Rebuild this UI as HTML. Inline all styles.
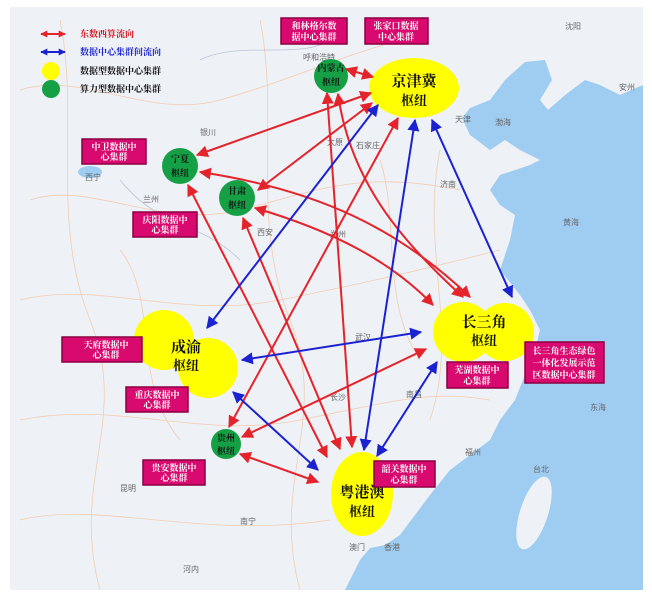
<!DOCTYPE html>
<html><head><meta charset="utf-8"><style>
body{margin:0;background:#fff;width:652px;height:600px;overflow:hidden}
svg{display:block}
.lb{font-family:"Liberation Serif","Noto Serif CJK SC",serif;font-size:9px;fill:#fff;font-weight:bold}
.nd{font-family:"Liberation Serif","Noto Serif CJK SC",serif;font-weight:bold;fill:#111}
.ct{font-family:"Liberation Sans","Noto Sans CJK SC",sans-serif;font-size:8px;fill:#666}
</style></head><body>
<svg width="652" height="600" viewBox="0 0 652 600" xmlns="http://www.w3.org/2000/svg">
<defs>
<marker id="r" viewBox="0 0 10 10" refX="9" refY="5" markerWidth="6" markerHeight="6" orient="auto-start-reverse"><path d="M0,0L10,5L0,10z" fill="#e4232a"/></marker>
<marker id="b" viewBox="0 0 10 10" refX="9" refY="5" markerWidth="6" markerHeight="6" orient="auto-start-reverse"><path d="M0,0L10,5L0,10z" fill="#1b22d0"/></marker>
<marker id="rs" viewBox="0 0 10 10" refX="9" refY="5" markerWidth="3.5" markerHeight="3.5" orient="auto-start-reverse"><path d="M0,0L10,5L0,10z" fill="#e4232a"/></marker>
<marker id="bs" viewBox="0 0 10 10" refX="9" refY="5" markerWidth="3.5" markerHeight="3.5" orient="auto-start-reverse"><path d="M0,0L10,5L0,10z" fill="#1b22d0"/></marker>
</defs>
<rect x="10" y="7" width="633" height="583" fill="#eef1f6"/>
<g fill="none" stroke="#f3c9a8" stroke-width="0.8" opacity="0.9">
<path d="M20,90 C80,70 150,120 220,100 S330,60 400,40"/><path d="M30,200 C90,180 160,230 240,210 S360,170 460,190"/>
<path d="M20,300 C100,280 180,320 280,300 S420,270 500,250"/><path d="M20,420 C120,400 200,440 300,420 S430,390 490,400"/>
<path d="M60,20 C80,120 50,220 90,320 S70,480 100,590"/><path d="M260,20 C280,120 250,220 290,320 S270,480 300,590"/>
<path d="M440,150 C420,250 460,330 430,420"/><path d="M20,520 C100,500 200,540 330,520"/>
<path d="M120,250 C160,300 130,380 180,440"/><path d="M380,160 C400,220 380,300 420,360"/>
</g>
<g fill="none" stroke="#b9c4dc" stroke-width="0.8"><path d="M200,60 C240,40 300,60 330,40"/><path d="M120,180 C160,230 200,220 240,260"/></g>
<path fill="#9fcdf2" d="M643,85 L620,95 L600,85 L585,80 L565,95 L548,110 L540,100 L552,80 L545,60 L525,62 L505,80 L490,100 L470,108 L462,118 L470,135 L490,150 L505,140 L520,150 L540,160 L530,165 L500,175 L490,190 L500,205 L515,215 L510,240 L500,270 L520,295 L530,310 L540,330 L535,350 L525,375 L515,400 L500,420 L490,440 L470,455 L450,470 L430,495 L415,515 L400,535 L385,545 L370,548 L360,560 L345,590 L643,590Z"/>
<ellipse cx="534" cy="513" rx="14" ry="38" transform="rotate(18 534 513)" fill="#eef1f6"/>
<ellipse cx="90" cy="172" rx="12" ry="6" fill="#9fcdf2"/>
<text class="ct" x="455" y="122">天津</text><text class="ct" x="356" y="148">石家庄</text><text class="ct" x="327" y="145">太原</text>
<text class="ct" x="440" y="187">济南</text><text class="ct" x="200" y="135">银川</text><text class="ct" x="85" y="180">西宁</text>
<text class="ct" x="143" y="202">兰州</text><text class="ct" x="257" y="235">西安</text><text class="ct" x="330" y="237">郑州</text>
<text class="ct" x="355" y="340">武汉</text><text class="ct" x="330" y="400">长沙</text><text class="ct" x="406" y="397">南昌</text>
<text class="ct" x="465" y="455">福州</text><text class="ct" x="533" y="472">台北</text><text class="ct" x="120" y="491">昆明</text>
<text class="ct" x="240" y="524">南宁</text><text class="ct" x="565" y="29">沈阳</text><text class="ct" x="619" y="90">安州</text>
<text class="ct" x="303" y="60">呼和浩特</text><text class="ct" x="384" y="550">香港</text><text class="ct" x="349" y="550">澳门</text>
<text class="ct" x="563" y="225">黄海</text><text class="ct" x="590" y="410">东海</text><text class="ct" x="495" y="125">渤海</text><text class="ct" x="183" y="572">河内</text>
<ellipse cx="414" cy="88" rx="45" ry="30" fill="#ffff00"/>
<circle cx="164" cy="340" r="30" fill="#ffff00"/><circle cx="208" cy="368" r="30" fill="#ffff00"/>
<circle cx="463" cy="332" r="30" fill="#ffff00"/><circle cx="505" cy="332" r="29" fill="#ffff00"/>
<ellipse cx="362" cy="494" rx="31" ry="42" fill="#ffff00"/>
<circle cx="331" cy="76" r="17" fill="#16a046"/><circle cx="180" cy="166" r="18" fill="#16a046"/>
<circle cx="237" cy="198" r="18" fill="#16a046"/><circle cx="226" cy="444" r="15" fill="#16a046"/>
<g fill="none" stroke="#e4232a" stroke-width="2" marker-start="url(#r)" marker-end="url(#r)">
<line x1="346" y1="69" x2="373" y2="77"/>
<line x1="371" y1="93" x2="197" y2="155"/>
<line x1="372" y1="103" x2="258" y2="190"/>
<line x1="398" y1="118" x2="229" y2="427"/>
<path d="M200,172 C320,190 400,230 470,297"/>
<path d="M255,208 C330,230 390,260 433,305"/>
<path d="M338,94 C350,180 400,240 463,297"/>
<line x1="327" y1="93" x2="352" y2="447"/>
<line x1="188" y1="185" x2="327" y2="457"/>
<line x1="243" y1="218" x2="340" y2="449"/>
<line x1="426" y1="349" x2="242" y2="437"/>
<line x1="240" y1="454" x2="318" y2="482"/>
</g>
<g fill="none" stroke="#1b22d0" stroke-width="2" marker-start="url(#b)" marker-end="url(#b)">
<line x1="378" y1="105" x2="207" y2="328"/>
<line x1="415" y1="120" x2="364" y2="450"/>
<line x1="432" y1="120" x2="512" y2="297"/>
<line x1="242" y1="360" x2="421" y2="332"/>
<line x1="233" y1="392" x2="318" y2="470"/>
<line x1="437" y1="362" x2="377" y2="456"/>
</g>
<text class="nd" font-size="15" x="414" y="86" text-anchor="middle">京津冀</text><text class="nd" font-size="13" x="414" y="105" text-anchor="middle">枢纽</text>
<text class="nd" font-size="15" x="186" y="352" text-anchor="middle">成渝</text><text class="nd" font-size="13" x="186" y="370" text-anchor="middle">枢纽</text>
<text class="nd" font-size="15" x="484" y="327" text-anchor="middle">长三角</text><text class="nd" font-size="13" x="484" y="345" text-anchor="middle">枢纽</text>
<text class="nd" font-size="15" x="362" y="497" text-anchor="middle">粤港澳</text><text class="nd" font-size="13" x="362" y="516" text-anchor="middle">枢纽</text>
<text class="nd" font-size="9" x="331" y="71" text-anchor="middle">内蒙古</text><text class="nd" font-size="9" x="331" y="85" text-anchor="middle">枢纽</text>
<text class="nd" font-size="9" x="180" y="162" text-anchor="middle">宁夏</text><text class="nd" font-size="9" x="180" y="176" text-anchor="middle">枢纽</text>
<text class="nd" font-size="9" x="237" y="194" text-anchor="middle">甘肃</text><text class="nd" font-size="9" x="237" y="208" text-anchor="middle">枢纽</text>
<text class="nd" font-size="9" x="226" y="441" text-anchor="middle">贵州</text><text class="nd" font-size="9" x="226" y="454" text-anchor="middle">枢纽</text>
<g fill="#d8096f" stroke="#8a0040" stroke-width="1.5">
<rect x="281" y="18" width="66" height="26"/><rect x="365" y="18" width="63" height="26"/>
<rect x="82" y="139" width="64" height="25"/><rect x="133" y="212" width="64" height="25"/>
<rect x="62" y="337" width="80" height="25"/><rect x="126" y="387" width="62" height="25"/>
<rect x="143" y="460" width="62" height="25"/><rect x="374" y="461" width="61" height="26"/>
<rect x="447" y="362" width="61" height="26"/><rect x="525" y="342" width="79" height="41"/>
</g>
<text class="lb" x="314" y="29" text-anchor="middle">和林格尔数</text><text class="lb" x="314" y="40" text-anchor="middle">据中心集群</text>
<text class="lb" x="396" y="29" text-anchor="middle">张家口数据</text><text class="lb" x="396" y="40" text-anchor="middle">中心集群</text>
<text class="lb" x="114" y="150" text-anchor="middle">中卫数据中</text><text class="lb" x="114" y="160" text-anchor="middle">心集群</text>
<text class="lb" x="165" y="223" text-anchor="middle">庆阳数据中</text><text class="lb" x="165" y="233" text-anchor="middle">心集群</text>
<text class="lb" x="106" y="348" text-anchor="middle">天府数据中</text><text class="lb" x="106" y="358" text-anchor="middle">心集群</text>
<text class="lb" x="157" y="398" text-anchor="middle">重庆数据中</text><text class="lb" x="157" y="408" text-anchor="middle">心集群</text>
<text class="lb" x="174" y="471" text-anchor="middle">贵安数据中</text><text class="lb" x="174" y="481" text-anchor="middle">心集群</text>
<text class="lb" x="404" y="472" text-anchor="middle">韶关数据中</text><text class="lb" x="404" y="483" text-anchor="middle">心集群</text>
<text class="lb" x="477" y="373" text-anchor="middle">芜湖数据中</text><text class="lb" x="477" y="384" text-anchor="middle">心集群</text>
<text class="lb" x="564" y="354" text-anchor="middle">长三角生态绿色</text><text class="lb" x="564" y="366" text-anchor="middle">一体化发展示范</text><text class="lb" x="564" y="378" text-anchor="middle">区数据中心集群</text>
<line x1="41" y1="34" x2="65" y2="34" stroke="#e4232a" stroke-width="2" marker-start="url(#rs)" marker-end="url(#rs)"/>
<line x1="41" y1="52" x2="65" y2="52" stroke="#1b22d0" stroke-width="2" marker-start="url(#bs)" marker-end="url(#bs)"/>
<circle cx="51" cy="71" r="9" fill="#ffff00"/><circle cx="51" cy="89" r="9" fill="#16a046"/>
<g font-family="Liberation Serif,Noto Serif CJK SC,serif" font-size="9" font-weight="bold">
<text x="80" y="37" fill="#d0121b">东数西算流向</text><text x="80" y="55" fill="#1b22d0">数据中心集群间流向</text>
<text x="80" y="74" fill="#111">数据型数据中心集群</text><text x="80" y="92" fill="#111">算力型数据中心集群</text></g>
</svg>
</body></html>
